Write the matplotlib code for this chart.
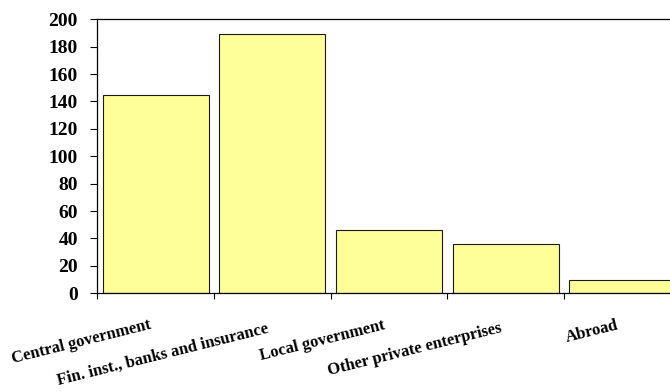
import numpy as np
import matplotlib
matplotlib.use('Agg')
import matplotlib.pyplot as plt

categories = ['Central government', 'Fin. inst., banks and insurance',
              'Local government', 'Other private enterprises', 'Abroad']
values = [145, 189, 46, 36, 10]
yticks = [0, 20, 40, 60, 80, 100, 120, 140, 160, 180, 200]

plt.rcParams['font.family'] = ['Liberation Serif', 'DejaVu Serif']
plt.rcParams['font.weight'] = 'bold'

fig = plt.figure(figsize=(6.70, 3.92), dpi=100)
ax = fig.add_axes([0.1452, 0.2518, 0.8706, 0.699])

x = np.arange(len(categories))
ax.bar(x, values, width=0.91, color='#FFFF99', edgecolor='#1a1a1a', linewidth=0.8)

ax.set_xlim(-0.5, len(categories) - 0.5)
ax.set_ylim(0, 200)
ax.set_yticks(yticks)
ax.set_yticklabels([str(t) for t in yticks], fontsize=14, fontweight='bold')
ax.set_xticks(np.arange(len(categories) + 1) - 0.5)
ax.set_xticklabels([])

ax.tick_params(axis='y', direction='out', length=5, width=0.8, pad=9)
ax.tick_params(axis='x', direction='out', length=4, width=0.8)
for s in ax.spines.values():
    s.set_linewidth(0.9)
    s.set_color('black')

# category labels, right end at category centre, slightly staggered
for i, lab in enumerate(categories):
    dy = -25.5 if i % 2 == 0 else -28
    ax.annotate(lab, xy=(i, 0), xycoords=('data', 'axes fraction'),
                xytext=(-2.5, dy), textcoords='offset points',
                ha='right', va='baseline', rotation=14, rotation_mode='anchor',
                fontsize=12, fontweight='bold', annotation_clip=False)

fig.savefig('out.png', dpi=100)
